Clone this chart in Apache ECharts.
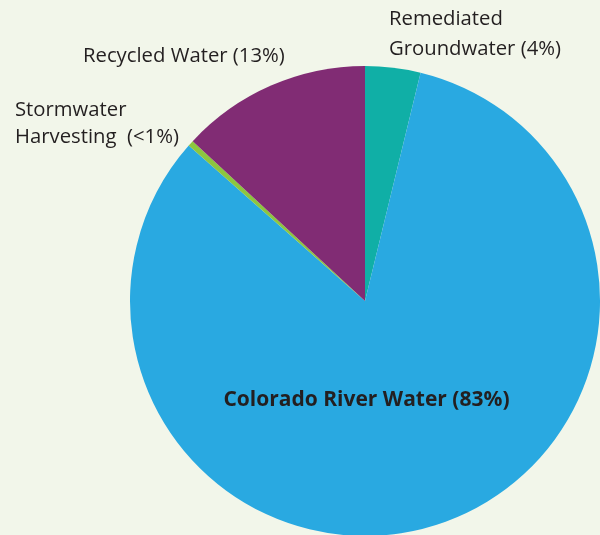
<!DOCTYPE html>
<html>
<head>
<meta charset="utf-8">
<script src="https://cdn.jsdelivr.net/npm/echarts@6/dist/echarts.min.js"></script>
<style>
  html, body { margin: 0; padding: 0; background: #F2F6EA; }
  #chart { width: 600px; height: 535px; }
</style>
</head>
<body>
<div id="chart"></div>
<script>
// Water supply sources, share of total (%)
const sources = ['Remediated Groundwater', 'Colorado River Water', 'Stormwater Harvesting', 'Recycled Water'];
const shares = [3.8, 82.7, 0.4, 13.1];
const shareLabels = ['4%', '83%', '<1%', '13%'];
const colors = ['#10AFA6', '#29A9E1', '#8DC63F', '#812C74'];

// label text lines for each source
const labelLines = [
  ['Remediated', 'Groundwater (' + shareLabels[0] + ')'],
  ['Colorado River Water (' + shareLabels[1] + ')'],
  ['Stormwater', 'Harvesting  (' + shareLabels[2] + ')'],
  ['Recycled Water (' + shareLabels[3] + ')']
];

// label placement: first-line middle, line step, alignment, weight
const labelPlaces = [
  { x: 389, y: 19.3, step: 29.5, align: 'left', bold: false },
  { x: 366.5, y: 400, step: 0, align: 'center', bold: true },
  { x: 15, y: 110, step: 27.5, align: 'left', bold: false },
  { x: 83, y: 56, step: 0, align: 'left', bold: false }
];

const textColor = '#231F20';
const graphics = [];
labelLines.forEach((lines, i) => {
  const p = labelPlaces[i];
  lines.forEach((line, k) => {
    graphics.push({
      type: 'text',
      x: p.x,
      y: p.y + k * p.step,
      silent: true,
      style: {
        text: line,
        fill: textColor,
        font: (p.bold ? 'bold 21px' : '20.3px') + ' "Open Sans"',
        align: p.align,
        verticalAlign: 'middle'
      },
      z: 10
    });
  });
});

const chart = echarts.init(document.getElementById('chart'), null, { renderer: 'canvas' });

chart.setOption({
  backgroundColor: '#F2F6EA',
  animation: false,
  graphic: graphics,
  series: [{
    type: 'pie',
    center: [365, 301],
    radius: [0, 235],
    startAngle: 90,
    clockwise: true,
    itemStyle: { borderWidth: 0 },
    emphasis: { disabled: true },
    label: { show: false },
    labelLine: { show: false },
    data: sources.map((name, i) => ({
      name: name,
      value: shares[i],
      itemStyle: { color: colors[i] }
    }))
  }]
});
</script>
</body>
</html>
